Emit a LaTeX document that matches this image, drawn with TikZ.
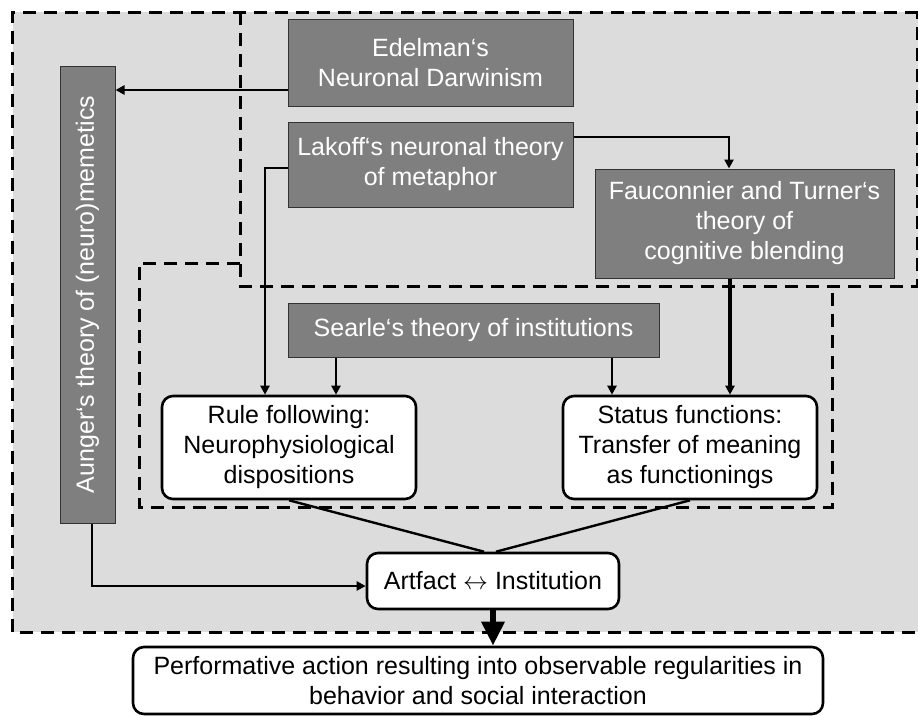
\documentclass[tikz,border=0pt]{standalone}
\usepackage{fontspec}
\setmainfont{Liberation Sans}
\usetikzlibrary{arrows.meta}
\definecolor{bggrey}{RGB}{220,220,220}
\definecolor{boxgrey}{RGB}{127,127,127}
\definecolor{boxedge}{RGB}{50,50,50}
\begin{document}
\begin{tikzpicture}[x=1pt,y=-1pt,
  txt/.style={font=\fontsize{25}{30}\selectfont, align=center, inner sep=0pt},
  darkbox/.style={txt, fill=boxgrey, draw=boxedge, line width=1pt, text=white},
  roundbox/.style={txt, fill=white, draw=black, line width=2.6pt, rounded corners=11pt},
  region/.style={line width=3pt, dash pattern=on 13pt off 8pt},
  arr/.style={line width=2.4pt, -{Triangle[length=9pt,width=9pt]}},
  plain/.style={line width=2.4pt},
  bigarr/.style={line width=6.5pt, -{Triangle[length=24pt,width=22pt]}}]
\useasboundingbox (0,0) rectangle (918,715);
% background and dashed regions
\fill[bggrey] (12.5,12) rectangle (918,632);
\draw[region] (918,12) -- (12.5,12) -- (12.5,632) -- (918,632);
\draw[region] (240,12) -- (240,286) -- (917,286) -- (917,12);
\draw[region] (240,263) -- (139,263) -- (139,507) -- (832,507) -- (832,286);
% nodes
\node[darkbox, minimum width=285pt, minimum height=87pt] (edel) at (430.5,62.5) {Edelman‘s\\Neuronal Darwinism};
\node[darkbox, minimum width=285pt, minimum height=85pt] (lak) at (430.5,164.5) {Lakoff‘s neuronal theory\\of metaphor};
\node[darkbox, minimum width=299pt, minimum height=109pt] (fauc) at (744.5,223.5) {Fauconnier and Turner‘s\\theory of\\cognitive blending};
\node[darkbox, minimum width=371pt, minimum height=54pt] (sear) at (473.5,330) {Searle‘s theory of institutions};
\node[darkbox, rotate=90, minimum width=457pt, minimum height=55pt] (aung) at (87.5,294.5) {Aunger‘s theory of (neuro)memetics};
\node[roundbox, minimum width=254pt, minimum height=103pt] (rule) at (289,447.5) {Rule following:\\Neurophysiological\\dispositions};
\node[roundbox, minimum width=254pt, minimum height=103pt] (stat) at (690,447.5) {Status functions:\\Transfer of meaning\\as functionings};
\node[roundbox, minimum width=252pt, minimum height=56pt] (art) at (493,581) {Artfact $\leftrightarrow$ Institution};
\node[roundbox, minimum width=690pt, minimum height=67pt] (perf) at (478,680.5) {Performative action resulting into observable regularities in\\behavior and social interaction};
% connectors
\coordinate (e1) at ([yshift=-27.5pt]edel.west);
\draw[arr] (e1) -- (e1 -| aung.south);
\draw[arr] ([yshift=-3.5pt]lak.west) -| ([xshift=-24pt]rule.north);
\draw[arr] ([yshift=27.5pt]lak.east) -| ([xshift=-15.5pt]fauc.north);
\draw[arr] ([xshift=-137.5pt]sear.south) -- ([xshift=47pt]rule.north);
\draw[arr] ([xshift=138.5pt]sear.south) -- ([xshift=-78pt]stat.north);
\draw[arr, line width=3.4pt] ([xshift=-14.5pt]fauc.south) -- ([xshift=40pt]stat.north);
\draw[plain] (rule.south) -- ([xshift=-9pt]art.north);
\draw[plain] (stat.south) -- ([xshift=3pt]art.north);
\coordinate (a1) at ([xshift=4.5pt]aung.west);
\draw[arr] (a1) |- ([yshift=-5pt]art.west);
\draw[bigarr] (art.south) -- (art.south |- perf.north);
\end{tikzpicture}
\end{document}
